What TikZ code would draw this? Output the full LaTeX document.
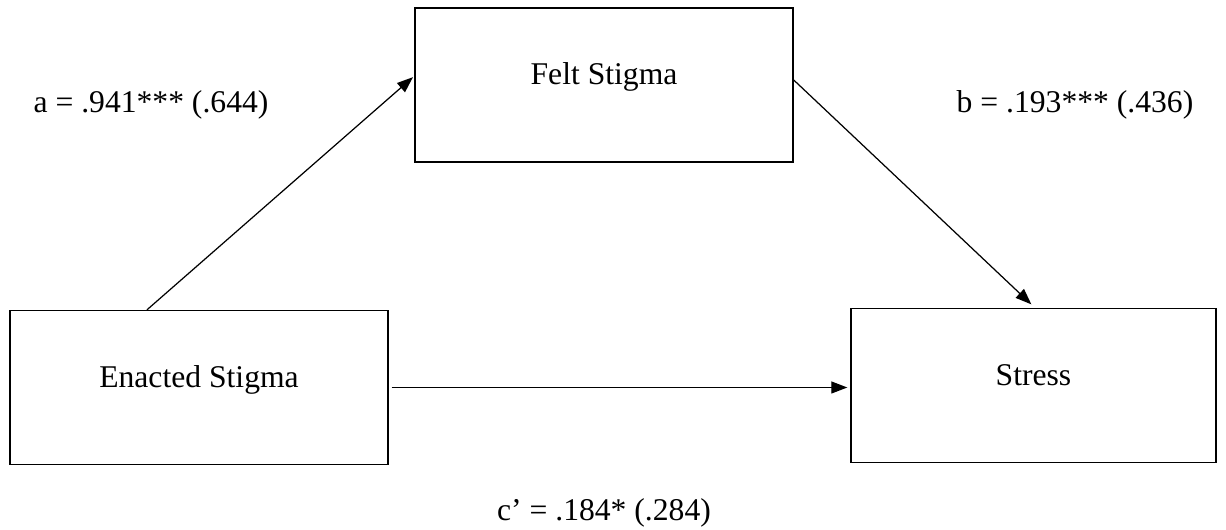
\documentclass[tikz,border=0pt]{standalone}
\usepackage{fontspec}
\setmainfont{Liberation Serif}
\usetikzlibrary{calc, arrows.meta}

\begin{document}
\begin{tikzpicture}[
    font=\fontsize{18}{22}\selectfont,
    box/.style={draw, line width=0.8pt, inner sep=0pt, minimum height=3.08cm, text height=1.5ex, text depth=1.5ex},
    effect/.style={-{Triangle[length=0.32cm,width=0.24cm]}, line width=0.7pt},
    coef/.style={anchor=base, inner sep=0pt}
  ]
    % Fix the page size
    \useasboundingbox (0,0) rectangle (24.52,10.6);

    % Draw the three variables
    \node[box, minimum width=7.56cm] (felt) at (12.08,8.9) {Felt Stigma};
    \node[box, minimum width=7.56cm] (enacted) at (3.98,2.85) {Enacted Stigma};
    \node[box, minimum width=7.3cm] (stress) at (20.67,2.89) {Stress};

    % Draw the paths
    \draw[effect, shorten >=1pt] ($(enacted.north)+(-1.04,0)$) -- ($(felt.west)+(0,0.18)$);
    \draw[effect, shorten >=0.1cm] ($(felt.east)+(0,0.1)$) -- ($(stress.north)+(0.03,0)$);
    \draw[effect, shorten <=0.06cm, shorten >=0.06cm] (enacted.east) -- (enacted.east -| stress.west);

    % Label the coefficients
    \node[coef] (pa) at (3.02,8.34) {a = .941*** (.644)};
    \node[coef] (pb) at (21.5,8.34) {b = .193*** (.436)};
    \node[coef] (pc) at (12.08,0.2) {c’ = .184* (.284)};
\end{tikzpicture}
\end{document}
